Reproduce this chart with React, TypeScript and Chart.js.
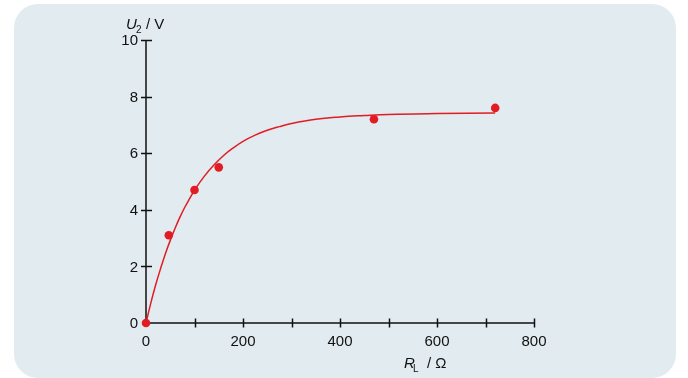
import React, { useEffect, useRef } from "react";
import { Chart, registerables } from "chart.js";

Chart.register(...registerables);

// Measured points
const pointR = [0, 47, 100, 150, 470, 720];
const pointU = [0, 3.1, 4.7, 5.5, 7.2, 7.6];

// Fitted curve
const curveR = [0, 10, 20, 30, 40, 50, 60, 70, 80, 90, 100, 120, 140, 160, 180, 200, 225, 250, 275, 300, 350, 400, 450, 500, 600, 720];
const curveU = [0, 0.71, 1.35, 1.92, 2.45, 2.92, 3.35, 3.74, 4.09, 4.4, 4.69, 5.18, 5.58, 5.92, 6.19, 6.42, 6.64, 6.81, 6.94, 7.05, 7.2, 7.28, 7.33, 7.37, 7.4, 7.42];

// Axis ticks
const xMajorTicks = [0, 200, 400, 600, 800];
const xMinorTicks = [100, 300, 500, 700];
const yTicks = [0, 2, 4, 6, 8, 10];

const RED = "rgb(226,28,36)";
const FONT = "'Liberation Sans', Arial, Helvetica, sans-serif";

const decorPlugin = {
  id: "decor",
  beforeDraw(chart: any) {
    const ctx = chart.ctx;
    ctx.save();
    ctx.fillStyle = "#ffffff";
    ctx.fillRect(0, 0, chart.width, chart.height);
    const x = 14, y = 4, w = 662, h = 374, r = 24;
    ctx.beginPath();
    ctx.moveTo(x + r, y);
    ctx.lineTo(x + w - r, y);
    ctx.arcTo(x + w, y, x + w, y + r, r);
    ctx.lineTo(x + w, y + h - r);
    ctx.arcTo(x + w, y + h, x + w - r, y + h, r);
    ctx.lineTo(x + r, y + h);
    ctx.arcTo(x, y + h, x, y + h - r, r);
    ctx.lineTo(x, y + r);
    ctx.arcTo(x, y, x + r, y, r);
    ctx.closePath();
    ctx.fillStyle = "rgb(225,235,240)";
    ctx.fill();
    ctx.restore();
  },
  beforeDatasetsDraw(chart: any) {
    const ctx = chart.ctx;
    const xs = chart.scales.x;
    const ys = chart.scales.y;
    const x0 = xs.getPixelForValue(0);
    const y0 = ys.getPixelForValue(0);
    ctx.save();
    ctx.strokeStyle = "#111";
    ctx.lineWidth = 1.5;
    ctx.beginPath();
    ctx.moveTo(x0, ys.getPixelForValue(10));
    ctx.lineTo(x0, y0);
    ctx.lineTo(xs.getPixelForValue(800), y0);
    ctx.stroke();
    // ticks
    ctx.beginPath();
    [...xMajorTicks, ...xMinorTicks].forEach((v) => {
      if (v === 0) return;
      const px = Math.round(xs.getPixelForValue(v)) + 0.5;
      ctx.moveTo(px, y0 - 4.5);
      ctx.lineTo(px, y0 + 4.5);
    });
    yTicks.forEach((v) => {
      if (v === 0) return;
      const py = Math.round(ys.getPixelForValue(v)) + 0.5;
      ctx.moveTo(x0 - 5, py);
      ctx.lineTo(x0 + 6, py);
    });
    ctx.stroke();
    // labels
    ctx.fillStyle = "#111";
    ctx.font = `15px ${FONT}`;
    ctx.textAlign = "center";
    ctx.textBaseline = "alphabetic";
    xMajorTicks.forEach((v) => {
      ctx.fillText(String(v), xs.getPixelForValue(v), 346);
    });
    ctx.textAlign = "right";
    ctx.textBaseline = "middle";
    yTicks.forEach((v) => {
      ctx.fillText(String(v), x0 - 8, ys.getPixelForValue(v) + 1);
    });
    // y title: U2 / V
    ctx.textAlign = "left";
    ctx.textBaseline = "alphabetic";
    ctx.font = `italic 15px ${FONT}`;
    ctx.fillText("U", 126, 29);
    ctx.font = `10px ${FONT}`;
    ctx.fillText("2", 136, 33);
    ctx.font = `15px ${FONT}`;
    ctx.fillText("/ V", 146, 29);
    // x title: RL / Ω
    ctx.font = `italic 15px ${FONT}`;
    ctx.fillText("R", 404, 368);
    ctx.font = `10px ${FONT}`;
    ctx.fillText("L", 413, 372);
    ctx.font = `15px ${FONT}`;
    ctx.fillText("/ Ω", 427, 368);
    ctx.restore();
  },
};

export default function App() {
  const ref = useRef<HTMLCanvasElement | null>(null);
  useEffect(() => {
    if (!ref.current) return;
    const chart = new Chart(ref.current, {
      type: "scatter",
      data: {
        datasets: [
          {
            label: "fit",
            data: curveR.map((r, i) => ({ x: r, y: curveU[i] })),
            showLine: true,
            borderColor: RED,
            borderWidth: 1.5,
            pointRadius: 0,
            tension: 0.4,
            clip: false,
          } as any,
          {
            label: "measured",
            data: pointR.map((r, i) => ({ x: r, y: pointU[i] })),
            showLine: false,
            backgroundColor: RED,
            borderColor: RED,
            pointRadius: 4.3,
            borderWidth: 0,
            clip: false,
          } as any,
        ],
      },
      options: {
        responsive: false,
        animation: false,
        layout: { padding: { left: 146, top: 40, right: 154, bottom: 55 } },
        plugins: { legend: { display: false }, tooltip: { enabled: false } },
        scales: {
          x: { type: "linear", min: 0, max: 800, display: false },
          y: { type: "linear", min: 0, max: 10, display: false },
        },
      },
      plugins: [decorPlugin],
    });
    return () => chart.destroy();
  }, []);
  return (
    <div style={{ position: "fixed", left: 0, top: 0, width: 688, height: 378 }}>
      <canvas ref={ref} width={688} height={378} style={{ display: "block" }} />
    </div>
  );
}
